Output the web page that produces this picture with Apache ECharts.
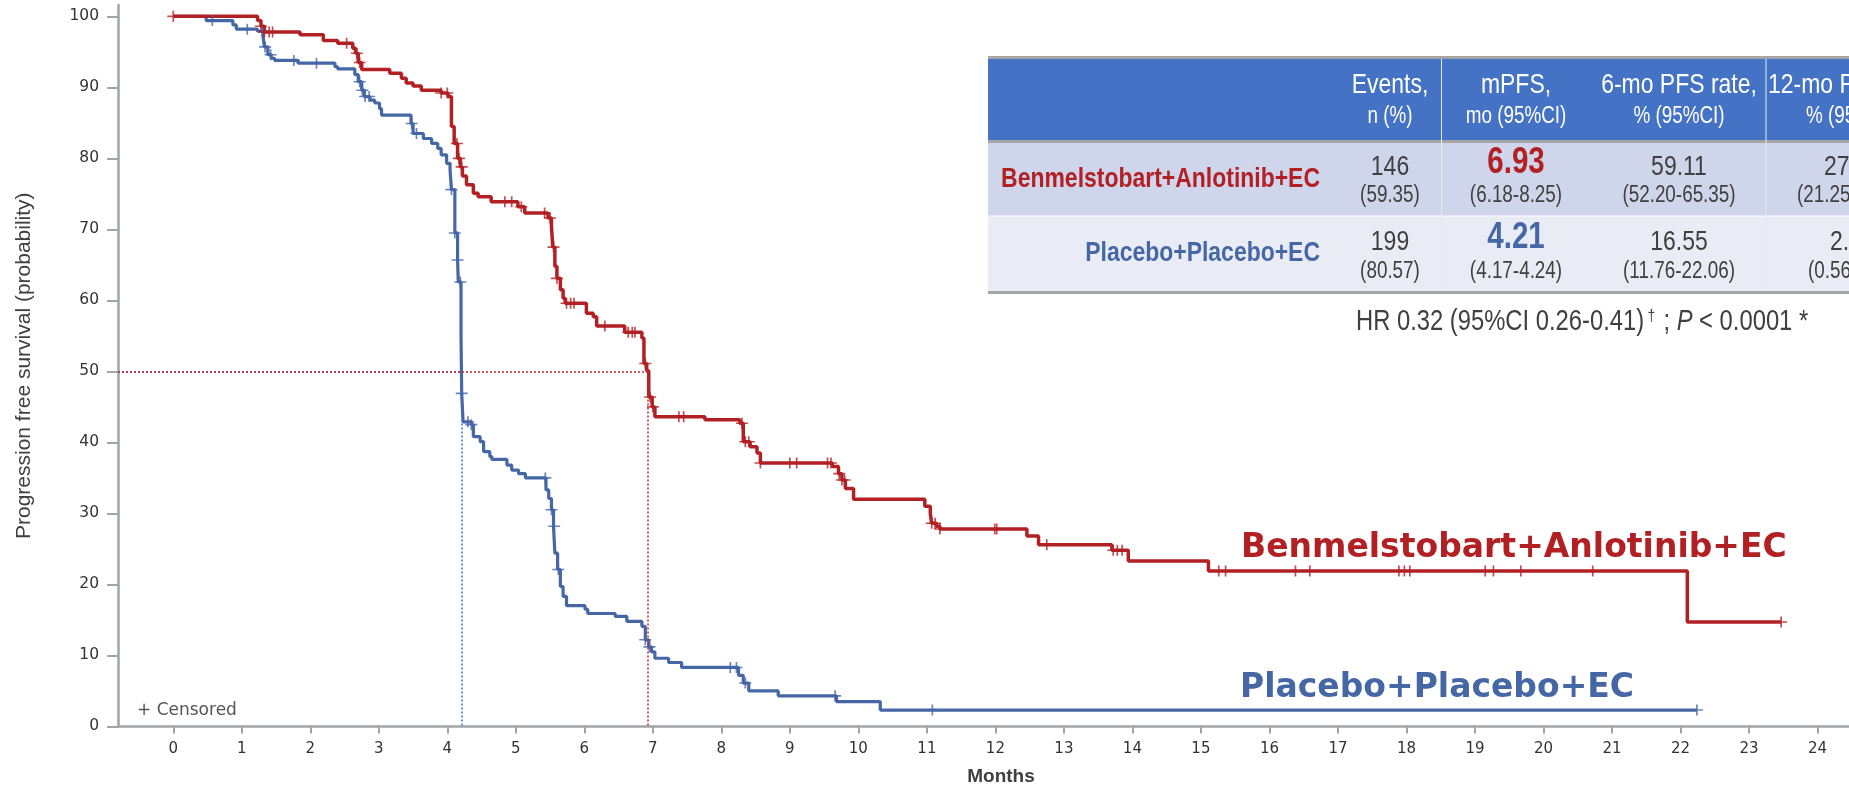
<!DOCTYPE html>
<html>
<head>
<meta charset="utf-8">
<script src="https://cdn.jsdelivr.net/npm/echarts@6/dist/echarts.min.js"></script>
<style>
  html, body { margin: 0; padding: 0; background: #fff; }
  #chart { width: 1849px; height: 786px; }
</style>
</head>
<body>
<div id="chart"></div>
<script>
// ---- data ----
const monthTicks = [0, 1, 2, 3, 4, 5, 6, 7, 8, 9, 10, 11, 12, 13, 14, 15, 16, 17, 18, 19, 20, 21, 22, 23, 24];
const pctTicks = [0, 10, 20, 30, 40, 50, 60, 70, 80, 90, 100];

// [month, PFS %] after each drop
const benmelSteps = [
    [0, 100], [1.23, 99.4], [1.28, 98.6], [1.33, 97.8], [1.85, 97.4], [2.19, 96.6], [2.40, 96.2],
    [2.62, 95.5], [2.66, 94.8], [2.70, 93.5], [2.75, 92.5], [3.16, 92.0], [3.33, 91.3], [3.40, 90.6],
    [3.50, 90.2], [3.62, 89.6], [3.91, 89.2], [4.01, 88.7], [4.06, 84.5], [4.10, 82.1], [4.15, 80.0],
    [4.19, 78.8], [4.22, 77.5], [4.28, 76.3], [4.38, 75.1], [4.45, 74.6], [4.64, 73.9], [5.03, 73.2],
    [5.13, 72.3], [5.47, 71.6], [5.52, 70.4], [5.54, 67.5], [5.57, 64.8], [5.60, 63.1], [5.65, 61.5],
    [5.69, 60.3], [5.72, 59.6], [6.03, 58.2], [6.13, 57.7], [6.18, 56.4], [6.59, 55.5], [6.84, 54.7],
    [6.87, 51.1], [6.91, 50.1], [6.94, 46.4], [6.99, 45.0], [7.03, 43.6], [7.76, 43.2], [8.27, 42.7],
    [8.32, 40.1], [8.42, 39.4], [8.52, 38.5], [8.57, 37.1], [9.62, 36.6], [9.71, 35.6], [9.76, 34.7],
    [9.81, 33.5], [9.93, 32.0], [10.97, 31.0], [11.05, 30.0], [11.07, 28.6], [11.14, 28.2], [11.19, 27.8],
    [12.46, 26.8], [12.63, 25.6], [13.70, 24.8], [13.94, 23.3], [15.11, 21.9], [22.10, 14.7], [23.47, 14.7]
];
const placeboSteps = [
    [0, 100], [0.48, 99.4], [0.87, 98.8], [0.92, 98.2], [1.23, 97.9], [1.31, 97.2], [1.33, 95.7],
    [1.38, 94.6], [1.43, 94.1], [1.48, 93.8], [1.82, 93.4], [2.36, 92.9], [2.40, 92.6], [2.65, 91.8],
    [2.70, 90.8], [2.75, 89.6], [2.79, 88.7], [2.87, 88.2], [2.94, 87.8], [3.01, 87.0], [3.04, 86.1],
    [3.47, 84.9], [3.50, 83.5], [3.65, 82.8], [3.77, 82.1], [3.86, 81.4], [3.91, 80.5], [3.99, 79.3],
    [4.04, 78.4], [4.06, 75.6], [4.11, 69.5], [4.15, 65.7], [4.16, 62.6], [4.20, 54.9], [4.21, 46.9],
    [4.23, 42.9], [4.35, 42.5], [4.38, 40.8], [4.48, 40.1], [4.53, 38.7], [4.62, 38.0], [4.65, 37.6],
    [4.87, 36.8], [4.94, 36.1], [5.04, 35.6], [5.14, 35.0], [5.44, 33.3], [5.48, 32.1], [5.52, 30.5],
    [5.55, 28.2], [5.57, 24.4], [5.61, 22.1], [5.65, 19.7], [5.69, 18.3], [5.74, 17.0], [6.01, 16.5],
    [6.05, 15.9], [6.45, 15.5], [6.62, 14.8], [6.84, 14.1], [6.89, 12.2], [6.94, 11.2], [6.98, 10.5],
    [7.03, 9.6], [7.23, 9.0], [7.42, 8.3], [8.25, 7.2], [8.32, 6.1], [8.40, 5.0], [8.83, 4.3],
    [9.68, 3.5], [10.32, 2.3], [22.24, 2.3]
];

// censoring times (months)
const benmelCensored = [0, 1.28, 1.33, 1.40, 1.45, 2.53, 2.68, 2.72, 3.91, 4.00, 4.14, 4.17, 4.21, 4.84, 4.94,
    5.08, 5.42, 5.50, 5.55, 5.60, 5.74, 5.80, 5.85, 6.30, 6.64, 6.70, 6.74, 6.89, 6.96, 7.00, 7.38, 7.45,
    8.30, 8.35, 8.40, 8.57, 9.00, 9.10, 9.55, 9.60, 9.72, 9.76, 9.80, 11.07, 11.12, 11.19, 11.99, 12.02,
    12.75, 13.72, 13.78, 13.85, 15.26, 15.36, 16.38, 16.59, 17.89, 17.97, 18.05, 19.15, 19.27, 19.67,
    20.72, 23.47];
const placeboCensored = [0.57, 1.08, 1.30, 1.34, 1.42, 1.76, 2.09, 2.72, 2.76, 2.80, 2.86, 3.48, 3.55, 4.06,
    4.11, 4.15, 4.19, 4.21, 4.30, 4.35, 5.43, 5.52, 5.56, 5.62, 6.89, 6.95, 8.13, 8.22, 8.35, 9.66, 11.08,
    22.24];

const medianBenmel = 6.93;
const medianPlacebo = 4.21;

// table
const armNames = ['Benmelstobart+Anlotinib+EC', 'Placebo+Placebo+EC'];
const headLine1 = ['Events,', 'mPFS,', '6-mo PFS rate,'];
const headLine2 = ['n (%)', 'mo (95%CI)', '% (95%CI)'];
const eventsN = ['146', '199'];
const eventsPct = ['(59.35)', '(80.57)'];
const mpfs = ['6.93', '4.21'];
const mpfsCI = ['(6.18-8.25)', '(4.17-4.24)'];
const pfs6 = ['59.11', '16.55'];
const pfs6CI = ['(52.20-65.35)', '(11.76-22.06)'];
// last column is cut by the picture edge, only the visible part is kept
const pfs12 = ['27', '2.'];
const pfs12CI = ['(21.25', '(0.56'];

const RED = '#B22024';
const BLUE = '#4567A6';
const AXIS_GREY = '#A0A5A8';
const X_MIN = -0.807, X_MAX = 24.46;

function survAt(steps, t) {
    let v = steps[0][1];
    for (const [m, s] of steps) {
        if (m <= t) v = s; else break;
    }
    return v;
}

const crossPath = 'path://M0,4.3H10V5.7H0Z M4.3,0H5.7V10H4.3Z';

function medianLines(med, color) {
    return {
        silent: true,
        symbol: ['none', 'none'],
        label: { show: false },
        lineStyle: { color: color, type: [2, 2], width: 1.5 },
        data: [
            [{ coord: [X_MIN, 50] }, { coord: [med, 50] }],
            [{ coord: [med, 50] }, { coord: [med, 0] }]
        ]
    };
}

// narrow text (Arial Narrow look) via horizontal squeeze
function nText(x, y, text, size, color, align, bold) {
    return {
        type: 'text', x: x, y: y, scaleX: 0.82, z: 20,
        style: {
            text: text, fill: color, align: align || 'center', verticalAlign: 'middle',
            fontFamily: 'Liberation Sans, Arial, sans-serif', fontSize: size,
            fontWeight: bold ? 'bold' : 'normal'
        }
    };
}

function buildTable() {
    const L = 988, R = 1849;
    const cols = [1390, 1516, 1679];
    const els = [
        { type: 'rect', shape: { x: L, y: 56, width: R - L, height: 3 }, style: { fill: '#A6A6A6' } },
        { type: 'rect', shape: { x: L, y: 59, width: R - L, height: 81 }, style: { fill: '#4472C4' } },
        { type: 'rect', shape: { x: L, y: 140, width: R - L, height: 3 }, style: { fill: '#A6A6A6' } },
        { type: 'rect', shape: { x: L, y: 143, width: R - L, height: 73 }, style: { fill: '#CFD5EA' } },
        { type: 'rect', shape: { x: L, y: 216, width: R - L, height: 75 }, style: { fill: '#E9EBF5' } },
        { type: 'rect', shape: { x: L, y: 291, width: R - L, height: 3 }, style: { fill: '#A6A6A6' } },
        { type: 'rect', shape: { x: L, y: 215.5, width: R - L, height: 1 }, style: { fill: '#ffffff' } },
        { type: 'rect', shape: { x: 1441, y: 59, width: 1, height: 232 }, style: { fill: '#E6E9F4' } },
        { type: 'rect', shape: { x: 1765.5, y: 59, width: 1, height: 232 }, style: { fill: '#E6E9F4' } }
    ];
    headLine1.forEach((t, i) => els.push(nText(cols[i], 85, t, 28, '#fff')));
    headLine2.forEach((t, i) => els.push(nText(cols[i], 117, t, 23, '#fff')));
    els.push(nText(1768, 85, '12-mo PFS rate,', 28, '#fff', 'left'));
    els.push(nText(1806, 117, '% (95%CI)', 23, '#fff', 'left'));

    const rowMain = [167, 242];
    const rowSub = [196, 272];
    const rowLabel = [179, 253];
    const armColor = [RED, BLUE];
    const mainLeft12 = [1824, 1830];
    const subLeft12 = [1797, 1808];
    for (let r = 0; r < 2; r++) {
        els.push(nText(1320, rowLabel[r], armNames[r], 28, armColor[r], 'right', true));
        els.push(nText(cols[0], rowMain[r], eventsN[r], 28, '#404040'));
        els.push(nText(cols[0], rowSub[r], eventsPct[r], 23, '#404040'));
        els.push(nText(cols[1], rowMain[r] - 4, mpfs[r], 36, armColor[r], 'center', true));
        els.push(nText(cols[1], rowSub[r], mpfsCI[r], 23, '#404040'));
        els.push(nText(cols[2], rowMain[r], pfs6[r], 28, '#404040'));
        els.push(nText(cols[2], rowSub[r], pfs6CI[r], 23, '#404040'));
        els.push(nText(mainLeft12[r], rowMain[r], pfs12[r], 28, '#404040', 'left'));
        els.push(nText(subLeft12[r], rowSub[r], pfs12CI[r], 23, '#404040', 'left'));
    }
    // HR line
    els.push({
        type: 'text', x: 1356, y: 322, scaleX: 0.82, z: 20,
        style: {
            text: '{n|HR 0.32 (95%CI 0.26-0.41)}{s|†}{n| ; }{i|P}{n| < 0.0001 *}',
            verticalAlign: 'middle', align: 'left',
            rich: {
                n: { fontSize: 29, fill: '#404040', fontFamily: 'Liberation Sans, Arial, sans-serif' },
                s: { fontSize: 17, fill: '#404040', fontFamily: 'Liberation Sans, Arial, sans-serif', verticalAlign: 'top', padding: [0, 2, 12, 4] },
                i: { fontSize: 29, fill: '#404040', fontStyle: 'italic', fontFamily: 'Liberation Sans, Arial, sans-serif' }
            }
        }
    });
    return els;
}

const chart = echarts.init(document.getElementById('chart'), null, { renderer: 'canvas' });

const option = {
    animation: false,
    backgroundColor: '#fff',
    grid: { left: 118, right: 0, top: 5, bottom: 59.6, outerBoundsMode: 'none', containLabel: false },
    xAxis: {
        type: 'value', min: X_MIN, max: X_MAX,
        name: 'Months', nameLocation: 'middle', nameGap: 41,
        nameTextStyle: { fontFamily: 'Liberation Sans, Arial, sans-serif', fontWeight: 'bold', fontSize: 19, color: '#404040', padding: [0, 0, 0, 35] },
        axisLine: { onZero: false, lineStyle: { color: AXIS_GREY, width: 2.5 } },
        axisTick: { customValues: monthTicks, length: 7, lineStyle: { color: AXIS_GREY, width: 2 } },
        axisLabel: { customValues: monthTicks, margin: 15, fontFamily: 'DejaVu Sans', fontSize: 15, color: '#333' },
        splitLine: { show: false }
    },
    yAxis: {
        type: 'value', min: 0, max: 101.6,
        name: 'Progression free survival (probability)', nameLocation: 'middle', nameGap: 83,
        nameTextStyle: { fontFamily: 'Liberation Sans, Arial, sans-serif', fontSize: 21, color: '#404040' },
        axisLine: { show: true, onZero: false, lineStyle: { color: AXIS_GREY, width: 2.5 } },
        axisTick: { show: true, customValues: pctTicks, length: 11, lineStyle: { color: AXIS_GREY, width: 2 } },
        axisLabel: { customValues: pctTicks, margin: 19, fontFamily: 'DejaVu Sans', fontSize: 15.5, color: '#333' },
        splitLine: { show: false }
    },
    graphic: [
        {
            type: 'text', x: 137, y: 711, z: 20,
            style: { text: '+ Censored', fill: '#555', fontFamily: 'DejaVu Sans', fontSize: 17, verticalAlign: 'middle' }
        },
        {
            type: 'text', x: 1241, y: 548, z: 20,
            style: { text: 'Benmelstobart+Anlotinib+EC', fill: RED, fontFamily: 'DejaVu Sans', fontWeight: 'bold', fontSize: 33, verticalAlign: 'middle' }
        },
        {
            type: 'text', x: 1240, y: 688, z: 20,
            style: { text: 'Placebo+Placebo+EC', fill: BLUE, fontFamily: 'DejaVu Sans', fontWeight: 'bold', fontSize: 33, verticalAlign: 'middle' }
        }
    ].concat(buildTable()),
    series: [
        {
            name: 'Placebo+Placebo+EC', type: 'line', step: 'end', showSymbol: false,
            lineStyle: { color: BLUE, width: 3.2 }, z: 2,
            data: placeboSteps,
            markLine: medianLines(medianPlacebo, '#4472C4')
        },
        {
            name: 'Benmelstobart+Anlotinib+EC', type: 'line', step: 'end', showSymbol: false,
            lineStyle: { color: RED, width: 3.5 }, z: 3,
            data: benmelSteps,
            markLine: medianLines(medianBenmel, '#C8262B')
        },
        {
            type: 'scatter', symbol: crossPath, symbolSize: [12, 11], z: 4,
            itemStyle: { color: BLUE },
            data: placeboCensored.map(t => [t, survAt(placeboSteps, t)])
        },
        {
            type: 'scatter', symbol: crossPath, symbolSize: [12, 11], z: 5,
            itemStyle: { color: RED },
            data: benmelCensored.map(t => [t, survAt(benmelSteps, t)])
        }
    ]
};

chart.setOption(option);
window.addEventListener('resize', chart.resize);
</script>
</body>
</html>
